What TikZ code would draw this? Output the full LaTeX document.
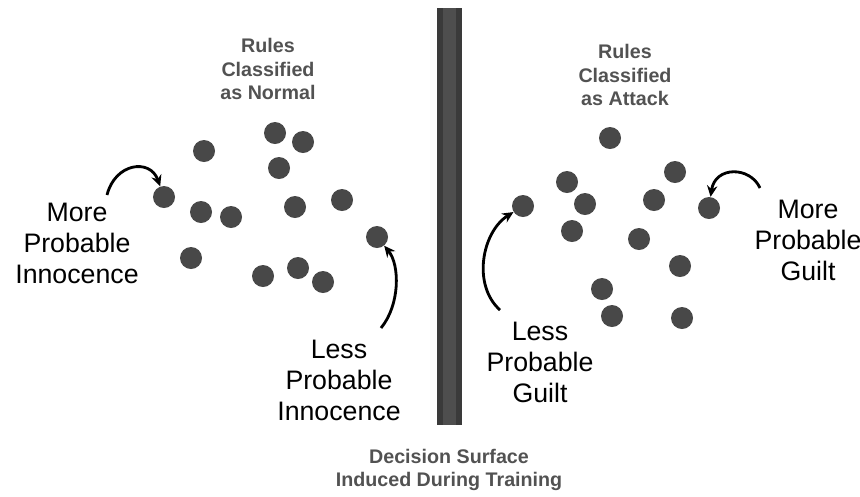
\documentclass[tikz,border=0pt]{standalone}
\usepackage{fontspec}
\setsansfont{Liberation Sans}
\usepackage{tikz}
\usetikzlibrary{arrows.meta}
\definecolor{dotgray}{RGB}{72,72,72}
\definecolor{labelgray}{RGB}{82,82,82}
\definecolor{baredge}{RGB}{58,58,58}
\definecolor{barmid}{RGB}{78,78,78}

\begin{document}
\begin{tikzpicture}[
  x=0.025cm, y=-0.025cm,
  dot/.style={circle, fill=dotgray, inner sep=0pt, minimum size=0.55cm},
  rulelabel/.style={font=\fontsize{14}{16.4}\selectfont\sffamily\bfseries,
                    text=labelgray, align=center, inner sep=0pt},
  caselabel/.style={font=\fontsize{19}{22}\selectfont\sffamily,
                    align=center, inner sep=0pt},
  curvearrow/.style={-{Stealth[length=0.28cm, width=0.26cm]}, line width=2pt}
]
\useasboundingbox (0,0) rectangle (860,496);

% decision surface
\fill[baredge] (437,8) rectangle (462,425);
\fill[barmid]  (443,8) rectangle (456,425);

% rules classified as normal
\node[dot] (n1)  at (164,197) {};
\node[dot] (n2)  at (204,151) {};
\node[dot] (n3)  at (275,133) {};
\node[dot] (n4)  at (303,142) {};
\node[dot] (n5)  at (279,168) {};
\node[dot] (n6)  at (201,212) {};
\node[dot] (n7)  at (231,217) {};
\node[dot] (n8)  at (295,207) {};
\node[dot] (n9)  at (342,200) {};
\node[dot] (n10) at (377,237) {};
\node[dot] (n11) at (191,258) {};
\node[dot] (n12) at (263,276) {};
\node[dot] (n13) at (298,268) {};
\node[dot] (n14) at (323,282) {};

% rules classified as attack
\node[dot] (a1)  at (610,138) {};
\node[dot] (a2)  at (567,182) {};
\node[dot] (a3)  at (675,172) {};
\node[dot] (a4)  at (523,206) {};
\node[dot] (a5)  at (585,204) {};
\node[dot] (a6)  at (654,200) {};
\node[dot] (a7)  at (709,208) {};
\node[dot] (a8)  at (572,231) {};
\node[dot] (a9)  at (639,239) {};
\node[dot] (a10) at (680,266) {};
\node[dot] (a11) at (602,289) {};
\node[dot] (a12) at (612,316) {};
\node[dot] (a13) at (682,318) {};

% labels
\node[rulelabel] (normal) at (268,69) {Rules\\Classified\\as Normal};
\node[rulelabel] (attack) at (625,75) {Rules\\Classified\\as Attack};
\node[rulelabel] (surface) at (449,470) {Decision Surface\\Induced During Training};
\node[caselabel] (moreinn)   at (77,243)  {More\\Probable\\Innocence};
\node[caselabel] (lessinn)   at (339,380) {Less\\Probable\\Innocence};
\node[caselabel] (lessguilt) at (540,362) {Less\\Probable\\Guilt};
\node[caselabel] (moreguilt) at (808,240) {More\\Probable\\Guilt};

% arrows
\coordinate (moreinnend)   at (107,195);
\coordinate (lessinnend)   at (381,328);
\coordinate (lessguiltend) at (500,310);
\coordinate (moreguiltend) at (760,188);

\draw[curvearrow] (moreinnend) .. controls (115,163) and (150,158) .. (n1);
\draw[curvearrow] (lessinnend) .. controls (400,305) and (400,265) .. (n10);
\draw[curvearrow] (lessguiltend) .. controls (472,285) and (482,232) .. (a4);
\draw[curvearrow] (moreguiltend) .. controls (750,166) and (715,166) .. (a7);
\end{tikzpicture}
\end{document}
